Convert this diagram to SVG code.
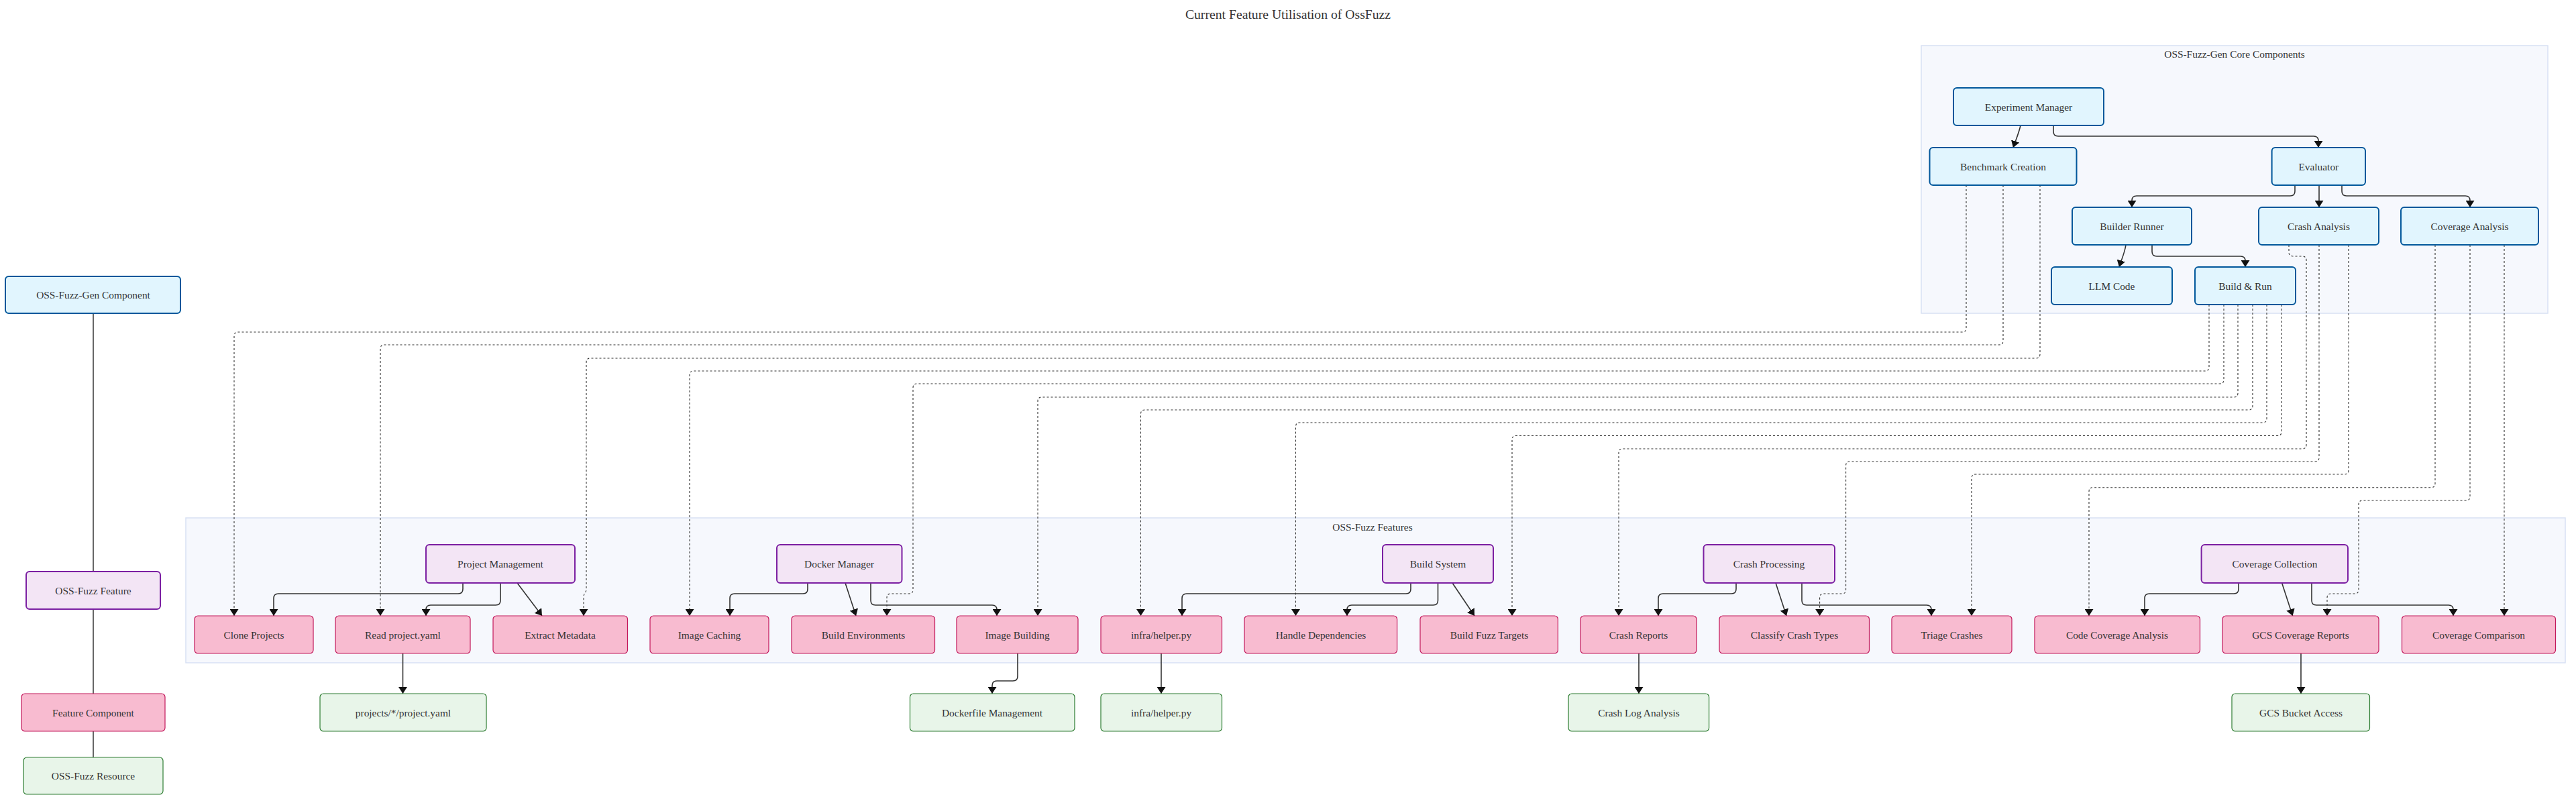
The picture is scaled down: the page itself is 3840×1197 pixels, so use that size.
<svg xmlns="http://www.w3.org/2000/svg" width="3840" height="1197" viewBox="0 0 3840 1197">
<style>
text{font-family:"Liberation Serif","Times New Roman",serif;font-size:15.4px;fill:#333;text-anchor:middle;dominant-baseline:central}
.title{font-size:19.7px;dominant-baseline:auto}
.ctitle{dominant-baseline:auto}
.cluster{fill:#f6f8fd;stroke:#d8e1f4;stroke-width:1.5}
.core rect{fill:#e1f5fe;stroke:#01579b;stroke-width:2}
.grp rect{fill:#f3e5f5;stroke:#7b1fa2;stroke-width:2}
.feat rect{fill:#f8bbd0;stroke:#c2185b;stroke-width:1.2}
.res rect{fill:#e8f5e9;stroke:#2e7d32;stroke-width:1.2}
.e{fill:none;stroke:#333;stroke-width:1.6;marker-end:url(#ah)}
.d{fill:none;stroke:#333;stroke-width:1.1;stroke-dasharray:3 3;marker-end:url(#ah)}
.lg{fill:none;stroke:#666;stroke-width:2}
</style>
<defs>
<marker id="ah" viewBox="0 0 10 13" refX="10" refY="6.5" markerWidth="10" markerHeight="13" markerUnits="userSpaceOnUse" orient="auto">
<path d="M0,0 L10,6.5 L0,13 z" fill="#111"/>
</marker>
</defs>
<rect width="3840" height="1197" fill="#ffffff"/>
<text class="title" x="1920" y="28">Current Feature Utilisation of OssFuzz</text>

<g id="cluster-core">
<rect class="cluster" x="2864" y="68" width="934" height="399"/>
<text class="ctitle" x="3331" y="86">OSS-Fuzz-Gen Core Components</text>
</g>
<g id="cluster-features">
<rect class="cluster" x="277" y="772" width="3547" height="216"/>
<text class="ctitle" x="2046" y="791">OSS-Fuzz Features</text>
</g>

<g id="legend">
<path class="lg" d="M139,467 L139,852 M139,908 L139,1034 M139,1090 L139,1129"/>
<g id="legend-gen" class="core"><rect x="8" y="412" width="261" height="55" rx="5"/><text x="139" y="439.5">OSS-Fuzz-Gen Component</text></g>
<g id="legend-feature" class="grp"><rect x="39" y="852" width="200" height="56" rx="5"/><text x="139" y="880">OSS-Fuzz Feature</text></g>
<g id="legend-component" class="feat"><rect x="32" y="1034" width="214" height="56" rx="5"/><text x="139" y="1062">Feature Component</text></g>
<g id="legend-resource" class="res"><rect x="35" y="1129" width="208" height="55" rx="5"/><text x="139" y="1156.5">OSS-Fuzz Resource</text></g>
</g>

<g id="connectors">
<!-- core solid -->
<path class="e" d="M3012,187 C3009,200 3005,208 3001,220"/>
<path class="e" d="M3061,187 L3061,196 Q3061,203 3068,203 L3449,203 Q3456,203 3456,210 L3456,220"/>
<path class="e" d="M3421,276 L3421,285 Q3421,292 3414,292 L3185,292 Q3178,292 3178,299 L3178,309"/>
<path class="e" d="M3457,276 L3457,309"/>
<path class="e" d="M3491,276 L3491,285 Q3491,292 3498,292 L3675,292 Q3682,292 3682,299 L3682,309"/>
<path class="e" d="M3169,365 C3167,378 3162,388 3159,398"/>
<path class="e" d="M3208,365 L3208,375 Q3208,382 3215,382 L3340,382 Q3347,382 3347,389 L3347,398"/>
<!-- features solid -->
<path class="e" d="M690,869 L690,878 Q690,885 683,885 L415,885 Q408,885 408,892 L408,918"/>
<path class="e" d="M746,869 L746,895 Q746,902 739,902 L642,902 Q635,902 635,909 L635,918"/>
<path class="e" d="M771,869 L808,918"/>
<path class="e" d="M600.5,974 L600.5,1034"/>
<path class="e" d="M1204,869 L1204,878 Q1204,885 1197,885 L1095,885 Q1088,885 1088,892 L1088,918"/>
<path class="e" d="M1260,869 L1276,918"/>
<path class="e" d="M1298,869 L1298,895 Q1298,902 1305,902 L1479,902 Q1486,902 1486,909 L1486,918"/>
<path class="e" d="M1517,974 L1517,1008 Q1517,1015 1510,1015 L1486,1015 Q1479,1015 1479,1022 L1479,1034"/>
<path class="e" d="M2103,869 L2103,878 Q2103,885 2096,885 L1769,885 Q1762,885 1762,892 L1762,918"/>
<path class="e" d="M2143.5,869 L2143.5,895 Q2143.5,902 2136.5,902 L2015,902 Q2008,902 2008,909 L2008,918"/>
<path class="e" d="M2165,869 L2198,918"/>
<path class="e" d="M1731,974 L1731,1034"/>
<path class="e" d="M2588,869 L2588,878 Q2588,885 2581,885 L2479,885 Q2472,885 2472,892 L2472,918"/>
<path class="e" d="M2647,869 L2663,918"/>
<path class="e" d="M2686,869 L2686,895 Q2686,902 2693,902 L2872,902 Q2879,902 2879,909 L2879,918"/>
<path class="e" d="M2443,974 L2443,1034"/>
<path class="e" d="M3337,869 L3337,878 Q3337,885 3330,885 L3204,885 Q3197,885 3197,892 L3197,918"/>
<path class="e" d="M3401.6,869 L3417.6,918"/>
<path class="e" d="M3446,869 L3446,895 Q3446,902 3453,902 L3650,902 Q3657,902 3657,909 L3657,918"/>
<path class="e" d="M3430,974 L3430,1034"/>
<!-- dashed cross links -->
<path class="d" d="M2931,276 L2931,489 Q2931,495 2925,495 L355,495 Q349,495 349,501 L349,918"/>
<path class="d" d="M2986,276 L2986,508 Q2986,514 2980,514 L573,514 Q567,514 567,520 L567,918"/>
<path class="d" d="M3041,276 L3041,528 Q3041,534 3035,534 L880,534 Q874,534 874,540 L874,878 C874,884 870,884 870,890 L870,918"/>
<path class="d" d="M3293,454 L3293,547 Q3293,553 3287,553 L1034,553 Q1028,553 1028,559 L1028,918"/>
<path class="d" d="M3315,454 L3315,566 Q3315,572 3309,572 L1367,572 Q1361,572 1361,578 L1361,879 Q1361,885 1355,885 L1328,885 Q1322,885 1322,891 L1322,918"/>
<path class="d" d="M3336,454 L3336,586 Q3336,592 3330,592 L1553,592 Q1547,592 1547,598 L1547,918"/>
<path class="d" d="M3358,454 L3358,605 Q3358,611 3352,611 L1706.5,611 Q1700.5,611 1700.5,617 L1700.5,918"/>
<path class="d" d="M3379,454 L3379,624 Q3379,630 3373,630 L1937.5,630 Q1931.5,630 1931.5,636 L1931.5,918"/>
<path class="d" d="M3401,454 L3401,643.5 Q3401,649.5 3395,649.5 L2260,649.5 Q2254,649.5 2254,655.5 L2254,918"/>
<path class="d" d="M3412,365 L3412,376 Q3412,382 3418,382 L3432,382 Q3438,382 3438,388 L3438,663 Q3438,669 3432,669 L2419,669 Q2413,669 2413,675 L2413,918"/>
<path class="d" d="M3457,365 L3457,682 Q3457,688 3451,688 L2757.6,688 Q2751.6,688 2751.6,694 L2751.6,879 Q2751.6,885 2745.6,885 L2718.6,885 Q2712.6,885 2712.6,891 L2712.6,918"/>
<path class="d" d="M3501,365 L3501,701 Q3501,707 3495,707 L2945,707 Q2939,707 2939,713 L2939,918"/>
<path class="d" d="M3630,365 L3630,720.7 Q3630,726.7 3624,726.7 L3120,726.7 Q3114,726.7 3114,732.7 L3114,918"/>
<path class="d" d="M3682,365 L3682,740 Q3682,746 3676,746 L3522,746 Q3516,746 3516,752 L3516,879 Q3516,885 3510,885 L3475,885 Q3469,885 3469,891 L3469,918"/>
<path class="d" d="M3733,365 L3733,918"/>
</g>

<g id="n-experiment-manager" class="core"><rect x="2912" y="131" width="224" height="56" rx="5"/><text x="3024" y="159">Experiment Manager</text></g>
<g id="n-benchmark-creation" class="core"><rect x="2876.5" y="220" width="219" height="56" rx="5"/><text x="2986" y="248">Benchmark Creation</text></g>
<g id="n-evaluator" class="core"><rect x="3386.6" y="220" width="139.4" height="56" rx="5"/><text x="3456.3" y="248">Evaluator</text></g>
<g id="n-builder-runner" class="core"><rect x="3089" y="309" width="178" height="56" rx="5"/><text x="3178" y="337">Builder Runner</text></g>
<g id="n-crash-analysis" class="core"><rect x="3367" y="309" width="179" height="56" rx="5"/><text x="3456.5" y="337">Crash Analysis</text></g>
<g id="n-coverage-analysis" class="core"><rect x="3579" y="309" width="205" height="56" rx="5"/><text x="3681.5" y="337">Coverage Analysis</text></g>
<g id="n-llm-code" class="core"><rect x="3058" y="398" width="180" height="56" rx="5"/><text x="3148" y="426">LLM Code</text></g>
<g id="n-build-run" class="core"><rect x="3272" y="398" width="150" height="56" rx="5"/><text x="3347" y="426">Build &amp; Run</text></g>

<g id="n-project-management" class="grp"><rect x="635" y="812" width="222" height="57" rx="5"/><text x="746" y="840.5">Project Management</text></g>
<g id="n-docker-manager" class="grp"><rect x="1158" y="812" width="186.5" height="57" rx="5"/><text x="1251" y="840.5">Docker Manager</text></g>
<g id="n-build-system" class="grp"><rect x="2061" y="812" width="165" height="57" rx="5"/><text x="2143.5" y="840.5">Build System</text></g>
<g id="n-crash-processing" class="grp"><rect x="2539.5" y="812" width="195.5" height="57" rx="5"/><text x="2637" y="840.5">Crash Processing</text></g>
<g id="n-coverage-collection" class="grp"><rect x="3281.6" y="812" width="218.4" height="57" rx="5"/><text x="3391" y="840.5">Coverage Collection</text></g>

<g id="n-clone-projects" class="feat"><rect x="290" y="918" width="177" height="56" rx="5"/><text x="378.5" y="946">Clone Projects</text></g>
<g id="n-read-project-yaml" class="feat"><rect x="500" y="918" width="201" height="56" rx="5"/><text x="600.5" y="946">Read project.yaml</text></g>
<g id="n-extract-metadata" class="feat"><rect x="735" y="918" width="200.5" height="56" rx="5"/><text x="835" y="946">Extract Metadata</text></g>
<g id="n-image-caching" class="feat"><rect x="969" y="918" width="177" height="56" rx="5"/><text x="1057.5" y="946">Image Caching</text></g>
<g id="n-build-environments" class="feat"><rect x="1180" y="918" width="213.5" height="56" rx="5"/><text x="1287" y="946">Build Environments</text></g>
<g id="n-image-building" class="feat"><rect x="1426" y="918" width="181" height="56" rx="5"/><text x="1516.5" y="946">Image Building</text></g>
<g id="n-infra-helper" class="feat"><rect x="1641" y="918" width="180.5" height="56" rx="5"/><text x="1731" y="946">infra/helper.py</text></g>
<g id="n-handle-dependencies" class="feat"><rect x="1855" y="918" width="227.6" height="56" rx="5"/><text x="1969" y="946">Handle Dependencies</text></g>
<g id="n-build-fuzz-targets" class="feat"><rect x="2117" y="918" width="205.4" height="56" rx="5"/><text x="2220" y="946">Build Fuzz Targets</text></g>
<g id="n-crash-reports" class="feat"><rect x="2356" y="918" width="173" height="56" rx="5"/><text x="2442.5" y="946">Crash Reports</text></g>
<g id="n-classify-crash-types" class="feat"><rect x="2563" y="918" width="223.5" height="56" rx="5"/><text x="2675" y="946">Classify Crash Types</text></g>
<g id="n-triage-crashes" class="feat"><rect x="2820" y="918" width="179" height="56" rx="5"/><text x="2909.5" y="946">Triage Crashes</text></g>
<g id="n-code-coverage-analysis" class="feat"><rect x="3033" y="918" width="246.5" height="56" rx="5"/><text x="3156" y="946">Code Coverage Analysis</text></g>
<g id="n-gcs-coverage-reports" class="feat"><rect x="3313" y="918" width="233" height="56" rx="5"/><text x="3429.5" y="946">GCS Coverage Reports</text></g>
<g id="n-coverage-comparison" class="feat"><rect x="3580.5" y="918" width="229" height="56" rx="5"/><text x="3695" y="946">Coverage Comparison</text></g>

<g id="r-project-yaml" class="res"><rect x="477" y="1034" width="248" height="56" rx="5"/><text x="601" y="1062">projects/*/project.yaml</text></g>
<g id="r-dockerfile-management" class="res"><rect x="1356.5" y="1034" width="245.5" height="56" rx="5"/><text x="1479" y="1062">Dockerfile Management</text></g>
<g id="r-infra-helper" class="res"><rect x="1641" y="1034" width="180.5" height="56" rx="5"/><text x="1731" y="1062">infra/helper.py</text></g>
<g id="r-crash-log-analysis" class="res"><rect x="2338" y="1034" width="209.6" height="56" rx="5"/><text x="2443" y="1062">Crash Log Analysis</text></g>
<g id="r-gcs-bucket-access" class="res"><rect x="3327" y="1034" width="205.5" height="56" rx="5"/><text x="3430" y="1062">GCS Bucket Access</text></g>
</svg>
